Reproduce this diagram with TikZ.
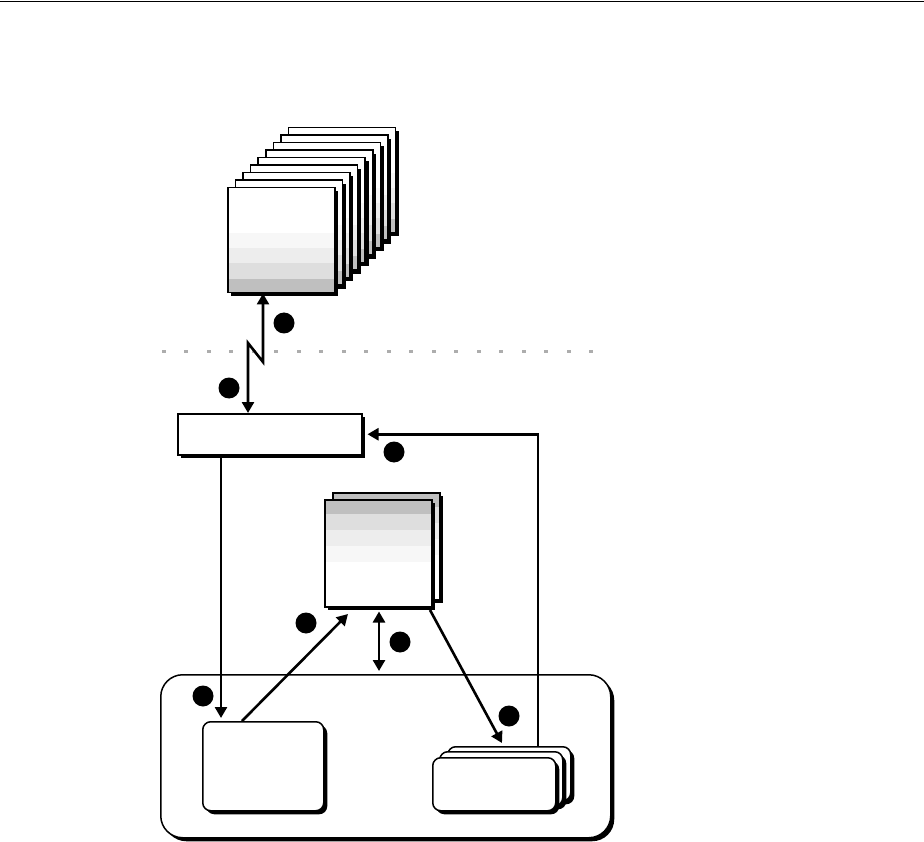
\documentclass[tikz,border=0pt]{standalone}
\usetikzlibrary{arrows.meta,shadows,calc}
\newcommand\bandsbottom{%
  \fill[black!3] (path picture bounding box.south west) rectangle ([yshift=60pt]path picture bounding box.south east);
  \fill[black!7] (path picture bounding box.south west) rectangle ([yshift=45pt]path picture bounding box.south east);
  \fill[black!13] (path picture bounding box.south west) rectangle ([yshift=30pt]path picture bounding box.south east);
  \fill[black!25] (path picture bounding box.south west) rectangle ([yshift=14pt]path picture bounding box.south east);}
\newcommand\bandstop{%
  \fill[black!3] (path picture bounding box.north west) rectangle ([yshift=-62pt]path picture bounding box.north east);
  \fill[black!7] (path picture bounding box.north west) rectangle ([yshift=-46pt]path picture bounding box.north east);
  \fill[black!13] (path picture bounding box.north west) rectangle ([yshift=-30pt]path picture bounding box.north east);
  \fill[black!25] (path picture bounding box.north west) rectangle ([yshift=-14pt]path picture bounding box.north east);}
\begin{document}
\begin{tikzpicture}[x=1pt,y=-1pt,
  shad/.style={drop shadow={shadow xshift=3.5pt,shadow yshift=-3.5pt,fill=black,opacity=1}},
  boxbase/.style={draw=black,line width=1.5pt,fill=white,inner sep=0pt,anchor=north west,shad},
  pagetop/.style={boxbase,minimum width=107pt,minimum height=105pt,path picture={\bandsbottom}},
  pagemid/.style={boxbase,minimum width=107pt,minimum height=107pt,path picture={\bandstop}},
  procbox/.style={boxbase,minimum width=184pt,minimum height=41pt},
  contbox/.style={boxbase,rounded corners=22pt,minimum width=450pt,minimum height=163pt},
  rbox/.style={boxbase,rounded corners=8pt},
  dot/.style={circle,fill=black,inner sep=0pt,minimum size=21pt},
  arr/.style={line width=2.6pt,-{Triangle[length=11pt,width=12pt]}},
  darr/.style={line width=2.6pt,{Triangle[length=11pt,width=12pt]}-{Triangle[length=11pt,width=12pt]}},
  sep/.style={fill=black!32}
]
\useasboundingbox (0,0) rectangle (924,842);
\draw[line width=1.3pt] (0,1.5) -- (924,1.5);
% top stack of pages
\foreach \i in {8,7,...,1}{
  \node[pagetop] (pg\i) at ({227+7.6*\i},{187-7.5*\i}) {};
}
\node[pagetop] (pg0) at (227,187) {};
% dotted separator
\foreach \k in {0,...,19}{
  \fill[sep] ({161.5+22.5*\k},350.5) rectangle ({165.5+22.5*\k},353.5);
}
% process box
\node[procbox] (proc) at (177,413) {};
% middle document
\node[pagemid] (md1) at (332,492) {};
\node[pagemid] (md0) at (324,499) {};
% container
\node[contbox] (cont) at (160,674) {};
\node[rbox,minimum width=121pt,minimum height=89pt] (lb) at (202,721) {};
\node[rbox,minimum width=123pt,minimum height=54pt] (rb2) at (447,746) {};
\node[rbox,minimum width=123pt,minimum height=54pt] (rb1) at (439,751) {};
\node[rbox,minimum width=123pt,minimum height=53pt] (rb0) at (432,757) {};
% coordinates
\coordinate (zt) at (263,362);
\coordinate (zb) at (248,343);
\coordinate (xa) at (221,0);
\coordinate (xl) at (242,0);
\coordinate (lbend) at (348,614);
\coordinate (mdstart) at (430,610);
\coordinate (rbend) at (502,743);
\coordinate (xv) at (379,0);
\coordinate (xr) at (538,0);
% connectors
\draw[darr] (pg0.south -| zt) -- (zt) -- (zb) -- (proc.north -| zb);
\draw[arr,shorten >=3pt] (proc.south -| xa) -- (lb.north -| xa);
\draw[arr] (lb.north -| xl) -- (lbend);
\draw[arr] (mdstart) -- (rbend);
\draw[darr,shorten <=4pt,shorten >=3pt] (md0.south -| xv) -- (cont.north -| xv);
\draw[arr,shorten >=5pt] (rb2.north -| xr) |- (proc.east);
% markers
\node[dot] (c1) at (284,323) {};
\node[dot] (c2) at (229,388) {};
\node[dot] (c3) at (394,452) {};
\node[dot] (c4) at (306,623) {};
\node[dot] (c5) at (400,642) {};
\node[dot] (c6) at (203,696) {};
\node[dot] (c7) at (509,716) {};
\end{tikzpicture}
\end{document}
